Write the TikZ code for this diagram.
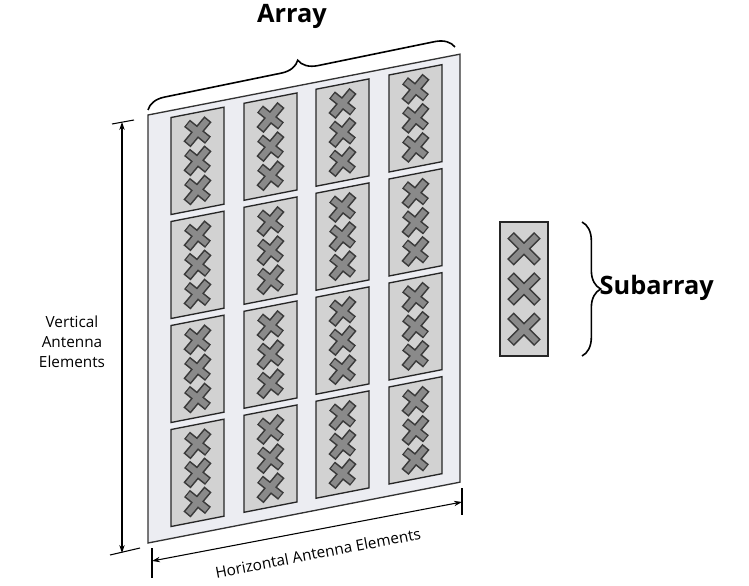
\documentclass[tikz,border=0pt]{standalone}
\usepackage{fontspec}
\setmainfont{Open Sans}
\usetikzlibrary{decorations.pathreplacing,arrows.meta}
\definecolor{panel}{HTML}{ECEDF2}
\definecolor{sub}{HTML}{D2D2D2}
\definecolor{xin}{HTML}{8A8A8A}
\definecolor{xout}{HTML}{3A3A3A}
\tikzset{
  sub/.style={draw=black!85, line width=1pt, fill=sub},
  xo/.style={draw=xout, line width=7pt},
  xi/.style={draw=xin, line width=4.6pt},
  dim/.style={draw=black, line width=0.8pt, -{Stealth[length=6pt,width=4pt]}},
  brace/.style={draw=black, line width=1.2pt, decorate, decoration={brace, amplitude=14pt}},
  lbl/.style={font=\bfseries\fontsize{19}{22}\selectfont},
  small/.style={font=\fontsize{11.5}{15}\selectfont, align=center}
}
\newcommand{\xcross}[3]{% x y half-size
  \draw[xo] (#1-#3,#2-#3) -- (#1+#3,#2+#3) (#1-#3,#2+#3) -- (#1+#3,#2-#3);
  \draw[xi] (#1-#3+1,#2-#3+1) -- (#1+#3-1,#2+#3-1) (#1-#3+1,#2+#3-1) -- (#1+#3-1,#2-#3+1);}
\newcommand{\subarr}[5]{% left top width height half-size
  \draw[sub] (#1,#2) rectangle (#1+#3,#2+#4);
  \xcross{#1+#3/2}{#2+0.2*#4}{#5}
  \xcross{#1+#3/2}{#2+0.5*#4}{#5}
  \xcross{#1+#3/2}{#2+0.8*#4}{#5}}
\begin{document}
\begin{tikzpicture}[x=0.75pt,y=-0.75pt]
\useasboundingbox (0,0) rectangle (749,585);
\begin{scope}[shift={(148,115)}, cm={1,0.195,0,1,(0,0)}]
  \draw[fill=panel, draw=black!80, line width=1pt] (0,0) rectangle (312,428);
  \foreach \u in {23,96,168,241}
    \foreach \v in {7,111,215,319}
      {\subarr{\u}{\v}{53}{97}{10.5}}
\end{scope}
\coordinate (bA) at (148,110);
\coordinate (bB) at (455,47);
\draw[brace] (bA) -- (bB);
\node[lbl] (arr) at (292,16) {Array};
\coordinate (v1) at (122,122);
\coordinate (v2) at (122,553);
\draw[line width=0.8pt] (112,124) -- (134,120) (110,555) -- (140,548);
\draw[dim] (122,300) -- (v1);
\draw[dim] (122,300) -- (v2);
\node[small] (vl) at (72,342) {Vertical\\Antenna\\Elements};
\coordinate (h1) at (152,561);
\coordinate (h2) at (462,502);
\draw[line width=0.8pt] (152,548) -- (152,578) (462,488) -- (462,515);
\draw[dim] (307,531.5) -- (h1);
\draw[dim] (307,531.5) -- (h2);
\node[small, rotate=10.8] (hl) at (318,553) {Horizontal Antenna Elements};
\subarr{500}{222}{48}{134}{13.5}
\draw[brace] (582,222) -- (582,356);
\node[lbl, anchor=west] (sl) at (595,288) {Subarray};
\end{tikzpicture}
\end{document}
